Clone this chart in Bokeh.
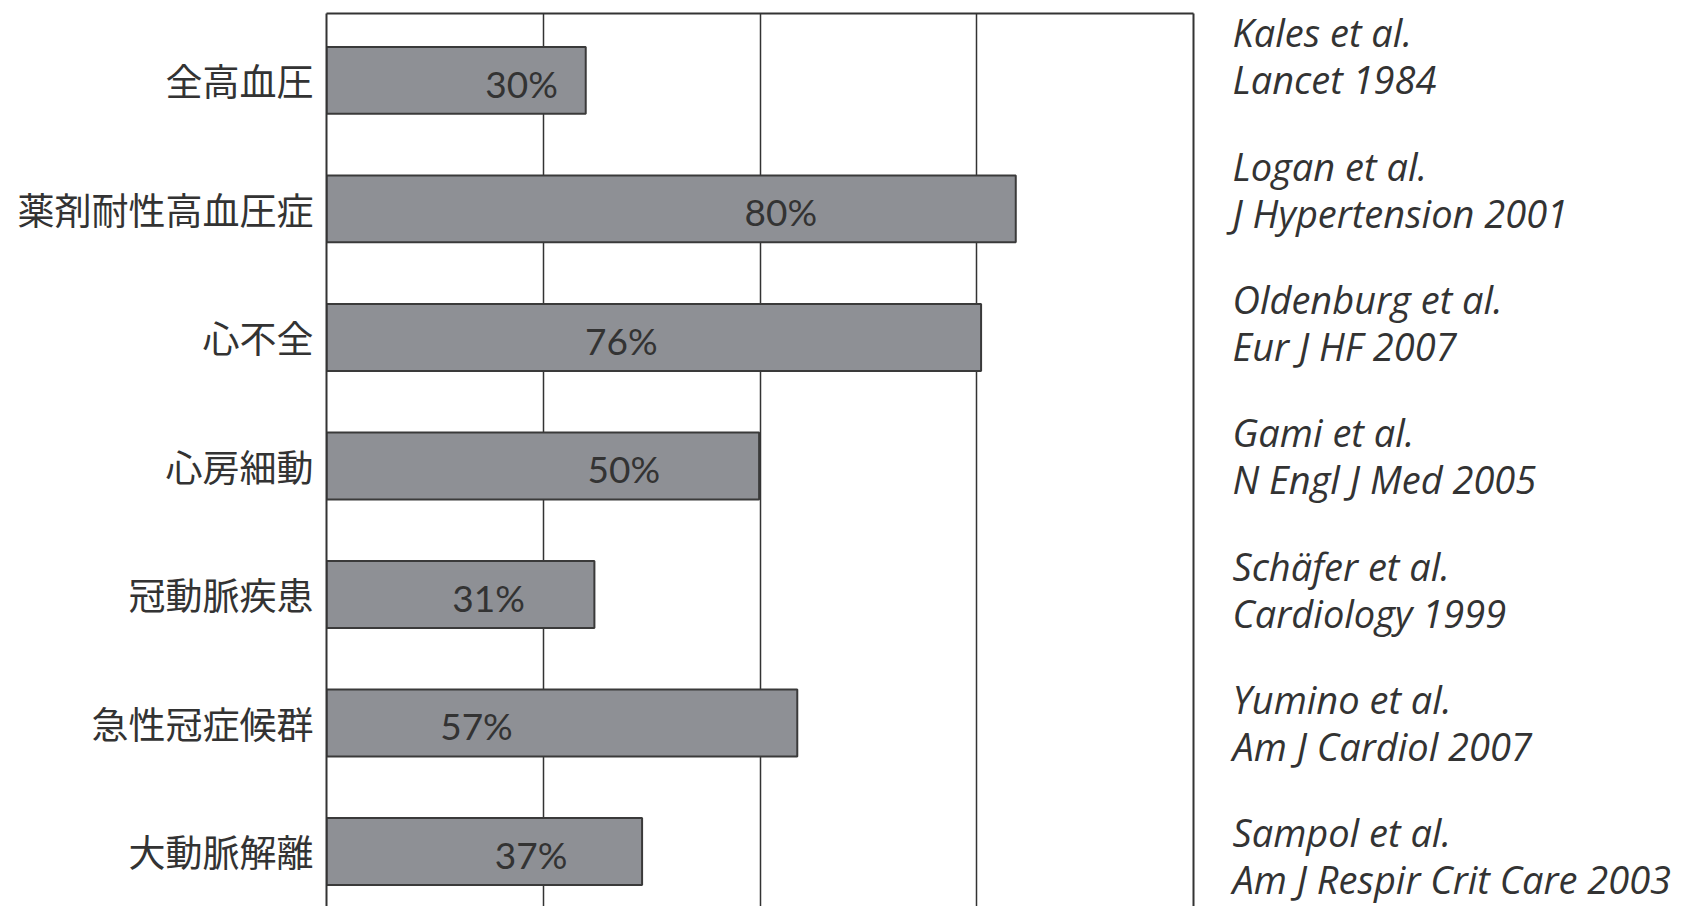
from bokeh.plotting import figure
from bokeh.models import Range1d, FixedTicker, LinearAxis, ColumnDataSource
from bokeh.layouts import row
from bokeh.embed import file_html
from bokeh.resources import INLINE
from bokeh.core.properties import value

# ---- data ----
categories = ["全高血圧", "薬剤耐性高血圧症", "心不全", "心房細動", "冠動脈疾患", "急性冠症候群", "大動脈解離"]
bar_length = [29.9, 79.5, 75.5, 49.9, 30.9, 54.3, 36.4]      # drawn bar lengths (% of axis)
bar_labels = ["30%", "80%", "76%", "50%", "31%", "57%", "37%"]
label_x = [22.5, 52.4, 34.0, 34.3, 18.7, 17.3, 23.6]          # where each % label sits on the axis
cite_author = ["Kales et al.", "Logan et al.", "Oldenburg et al.", "Gami et al.",
               "Schäfer et al.", "Yumino et al.", "Sampol et al."]
cite_journal = ["Lancet 1984", "J Hypertension 2001", "Eur J HF 2007", "N Engl J Med 2005",
                "Cardiology 1999", "Am J Cardiol 2007", "Am J Respir Crit Care 2003"]

idx = list(range(len(categories)))

INK = "#333333"
BAR = "#8e9095"

src = ColumnDataSource(dict(y=idx, right=bar_length, lx=label_x, text=bar_labels))

yr = Range1d(6.428, -0.521)
p = figure(frame_width=867, frame_height=893,
           x_range=Range1d(0, 100), y_range=yr,
           x_axis_location=None, y_axis_location="left",
           output_backend="svg", toolbar_location=None,
           min_border_left=326, min_border_top=13, min_border_bottom=0, min_border_right=5,
           outline_line_color=None, background_fill_color="white", border_fill_color="white")

p.hbar(y="y", left=0, right="right", height=0.52, source=src,
       fill_color=BAR, line_color="#3a3a3a", line_width=2)
p.text(x="lx", y="y", text="text", source=src, text_align="center", text_baseline="middle",
       y_offset=3, text_font=value("Lato"), text_font_size="37px", text_color=INK)

# grid
p.ygrid.visible = False
p.xgrid.ticker = FixedTicker(ticks=[25, 50, 75])
p.xgrid.grid_line_color = INK
p.xgrid.grid_line_width = 1.5

# left axis with category names
ya = p.yaxis[0]
ya.ticker = FixedTicker(ticks=idx)
ya.major_label_overrides = {i: c for i, c in zip(idx, categories)}
ya.major_label_text_font = "Noto Sans CJK JP"
ya.major_label_text_font_size = "37px"
ya.major_label_text_color = INK
ya.major_tick_line_color = None
ya.minor_tick_line_color = None
ya.major_label_standoff = 7
ya.axis_line_color = INK
ya.axis_line_width = 2

# top and right borders as bare axes
for loc in ("above", "right"):
    ax = LinearAxis(ticker=FixedTicker(ticks=[]), major_tick_line_color=None,
                    minor_tick_line_color=None, major_label_text_font_size="0px",
                    major_label_standoff=0, major_tick_out=0, major_tick_in=0,
                    axis_line_color=INK, axis_line_width=2)
    p.add_layout(ax, loc)

# right panel with citations, sharing the bar chart's vertical scale
q = figure(width=485, frame_height=893, x_range=Range1d(0, 485), y_range=yr,
           output_backend="svg", toolbar_location=None,
           min_border_left=0, min_border_right=0, min_border_top=13, min_border_bottom=0,
           outline_line_color=None,
           x_axis_location=None, y_axis_location=None,
           background_fill_color="white", border_fill_color="white")
q.xgrid.visible = False
q.ygrid.visible = False
row_px = 128.5            # pixels per category on the bar chart
cite_step = 133.3         # pixels between citation blocks
y1 = [(32 + cite_step * i - 80) / row_px for i in idx]
y2 = [(79 + cite_step * i - 80) / row_px for i in idx]
csrc = ColumnDataSource(dict(x=[34] * len(idx), y1=y1, y2=y2, a=cite_author, j=cite_journal))
for col, txt in (("y1", "a"), ("y2", "j")):
    q.text(x="x", y=col, text=txt, source=csrc,
           text_align="left", text_baseline="alphabetic",
           text_font=value("Open Sans"), text_font_style="italic", text_font_size="38px",
           text_color=INK)

layout = row(p, q, spacing=0)
open("out.html", "w").write(file_html(layout, INLINE))
